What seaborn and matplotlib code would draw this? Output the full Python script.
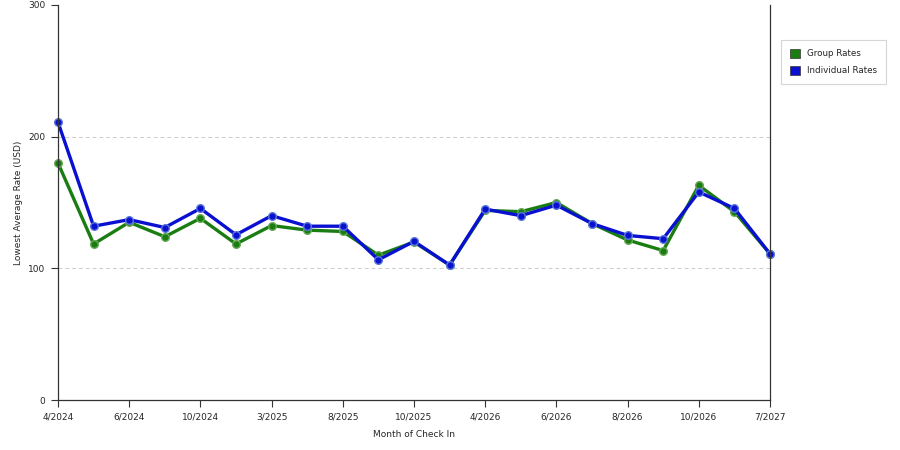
import pandas as pd
import matplotlib
matplotlib.use("Agg")
import matplotlib.pyplot as plt
import matplotlib.patches as mpatches
import seaborn as sns

# 数据
tick_labels = ['4/2024', '6/2024', '10/2024', '3/2025', '8/2025', '10/2025',
               '4/2026', '6/2026', '8/2026', '10/2026', '7/2027']
group_rates = [180, 118.5, 135, 124, 138, 118.5, 132.5, 129, 128, 110, 120,
               102.5, 144, 143, 150, 134, 121.5, 113.5, 163, 143, 111]
individual_rates = [211, 132, 137, 131, 145.5, 125.5, 140, 132, 132, 106.5, 120.5,
                    102.5, 145, 140, 148, 134, 125, 122.5, 158, 145.5, 111]

idx = list(range(len(group_rates)))
df = pd.DataFrame({
    'idx': idx * 2,
    'rate': group_rates + individual_rates,
    'series': ['Group Rates'] * len(idx) + ['Individual Rates'] * len(idx),
})

sns.set_style('ticks')
plt.rcParams['font.family'] = ['DejaVu Sans']

fig = plt.figure(figsize=(9, 4.5), dpi=100)
ax = fig.add_axes([58 / 900, 1 - 400 / 450, 712 / 900, 395 / 450])

palette = {'Group Rates': '#1a7d12', 'Individual Rates': '#0a10d0'}
edges = {'Group Rates': '#6aa85a', 'Individual Rates': '#5a78d8'}
for name in ['Group Rates', 'Individual Rates']:
    sns.lineplot(data=df[df['series'] == name], x='idx', y='rate', ax=ax,
                 color=palette[name], linewidth=2.4, marker='o', markersize=5.5,
                 markeredgecolor=edges[name], markeredgewidth=1.0, legend=False,
                 clip_on=False)

ax.set_xlim(0, len(idx) - 1)
ax.set_ylim(0, 300)
ax.set_yticks([0, 100, 200, 300])
ax.set_xticks(idx[::2])
ax.set_xticklabels(tick_labels)
ax.tick_params(axis='both', labelsize=6.5, direction='out', length=5, width=0.8,
               color='#333333', pad=4, bottom=True, left=True)
for y in [100, 200]:
    ax.axhline(y, color='#cccccc', linestyle=(0, (4, 3)), linewidth=0.7, zorder=0)

ax.spines['top'].set_visible(False)
ax.spines['right'].set_visible(True)
for s in ['left', 'right', 'bottom']:
    ax.spines[s].set_color('#333333')
    ax.spines[s].set_linewidth(0.9)

ax.set_xlabel('Month of Check In', fontsize=6.5, labelpad=6)
ax.set_ylabel('Lowest Average Rate (USD)', fontsize=6.5, labelpad=4)

handles = [mpatches.Patch(facecolor=palette[n], edgecolor='#333333', linewidth=0.5, label=n)
           for n in palette]
leg = fig.legend(handles=handles, loc='upper left', bbox_to_anchor=(777 / 900, 1 - 36 / 450),
                 fontsize=6.3, frameon=True, fancybox=False, handlelength=1.1,
                 handleheight=1.1, borderpad=1.0, labelspacing=0.9, handletextpad=0.8)
leg.get_frame().set_edgecolor('#cccccc')
leg.get_frame().set_linewidth(0.8)

fig.savefig('out.png', dpi=100)
